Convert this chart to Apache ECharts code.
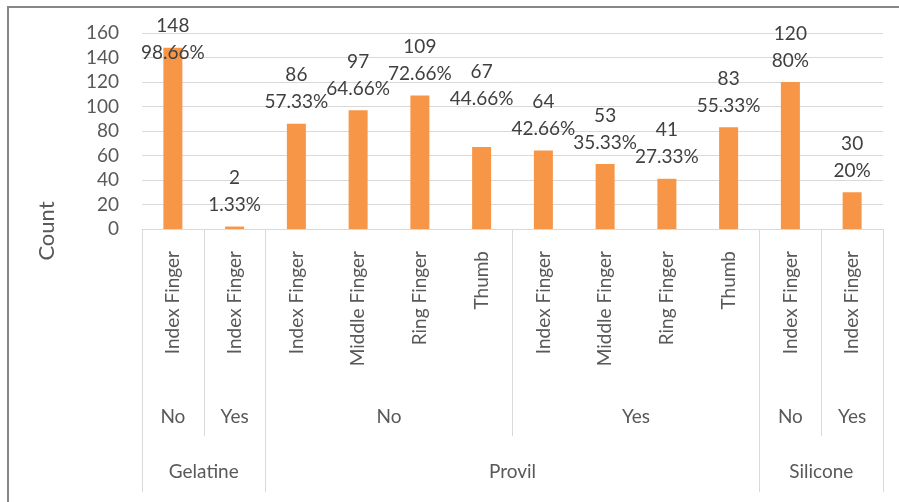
<!DOCTYPE html>
<html>
<head>
<meta charset="utf-8">
<script src="https://cdn.jsdelivr.net/npm/echarts@6/dist/echarts.min.js"></script>
<style>
  html, body { margin: 0; padding: 0; background: #fff; }
  #main { position: absolute; left: 0; top: 0; width: 899px; height: 502px; }
  #frame {
    position: absolute; left: 7px; top: 6px; width: 900px; height: 500px;
    border-left: 2px solid #878787; border-top: 2px solid #878787;
    pointer-events: none;
  }
</style>
</head>
<body>
<div id="main"></div>
<div id="frame"></div>
<script>
// finger level (one per bar)
const fingers = ['Index Finger', 'Index Finger', 'Index Finger', 'Middle Finger', 'Ring Finger', 'Thumb',
  'Index Finger', 'Middle Finger', 'Ring Finger', 'Thumb', 'Index Finger', 'Index Finger']
const counts = [148, 2, 86, 97, 109, 67, 64, 53, 41, 83, 120, 30]
const pctLabels = ['98.66%', '1.33%', '57.33%', '64.66%', '72.66%', '44.66%',
  '42.66%', '35.33%', '27.33%', '55.33%', '80%', '20%']
// second level (No / Yes) and its span in bars
const answerNames = ['No', 'Yes', 'No', 'Yes', 'No', 'Yes']
const answerSizes = [1, 1, 4, 4, 1, 1]
// third level (material)
const materialNames = ['Gelatine', 'Provil', 'Silicone']
const materialSizes = [2, 8, 2]
const yMax = 160
const yStep = 20

// group edges + centres in bar units
function spans(sizes) {
  const bounds = [0]
  const centers = []
  let acc = 0
  sizes.forEach(function(s) {
    centers.push(acc + s / 2)
    acc += s
    bounds.push(acc)
  })
  return { bounds: bounds, centers: centers }
}
const lvl2 = spans(answerSizes)
const lvl3 = spans(materialSizes)

const FONT = 'Lato'
const axisText = '#595959'
const lineColor = '#d9d9d9'
// labels that Excel pushed off their default place
const labelNudge = { 0: 27, 5: -27 }

const myChart = echarts.init(document.getElementById('main'))

function groupAxis(g, names, tickLen, margin) {
  return {
    type: 'value',
    position: 'bottom',
    min: 0,
    max: fingers.length,
    axisLine: { show: false },
    splitLine: { show: false },
    axisTick: {
      show: true,
      customValues: g.bounds,
      length: tickLen,
      lineStyle: { color: lineColor }
    },
    axisLabel: {
      customValues: g.centers,
      margin: margin,
      color: axisText,
      fontFamily: FONT,
      fontSize: 19,
      formatter: function(v) {
        const i = g.centers.indexOf(v)
        return i >= 0 ? names[i] : ''
      }
    }
  }
}

const option = {
  animation: false,
  grid: {
    left: 142,
    right: 16,
    top: 33,
    bottom: 273,
    outerBoundsMode: 'none'
  },
  xAxis: [
    {
      type: 'category',
      position: 'bottom',
      data: fingers,
      axisLine: { show: true, lineStyle: { color: lineColor } },
      axisTick: { show: false },
      axisLabel: {
        interval: 0,
        rotate: 90,
        margin: 22,
        color: axisText,
        fontFamily: FONT,
        fontSize: 19
      }
    },
    groupAxis(lvl2, answerNames, 207, 178),
    groupAxis(lvl3, materialNames, 263, 233)
  ],
  yAxis: [
    {
      type: 'value',
      min: 0,
      max: yMax,
      interval: yStep,
      axisLine: { show: false },
      axisTick: { show: false },
      splitLine: { show: true, lineStyle: { color: lineColor } },
      axisLabel: {
        margin: 23,
        color: axisText,
        fontFamily: FONT,
        fontSize: 19
      }
    }
  ],
  graphic: [
    {
      type: 'text',
      x: 47,
      y: 231,
      rotation: Math.PI / 2,
      style: {
        text: 'Count',
        fill: axisText,
        font: '22px ' + FONT,
        align: 'center',
        verticalAlign: 'middle'
      }
    }
  ],
  series: [
    {
      type: 'bar',
      xAxisIndex: 0,
      yAxisIndex: 0,
      barWidth: 19,
      itemStyle: { color: '#f79646' },
      label: {
        show: true,
        position: 'top',
        distance: 8,
        color: '#404040',
        fontFamily: FONT,
        fontSize: 19,
        lineHeight: 27,
        align: 'center',
        formatter: function(p) {
          return p.value + '\n' + pctLabels[p.dataIndex]
        }
      },
      data: counts.map(function(v, i) {
        return { value: v, label: { offset: [0, labelNudge[i] || 0] } }
      })
    }
  ]
}
myChart.setOption(option)
window.addEventListener('resize', function() {
  myChart.resize()
})
</script>
</body>
</html>
